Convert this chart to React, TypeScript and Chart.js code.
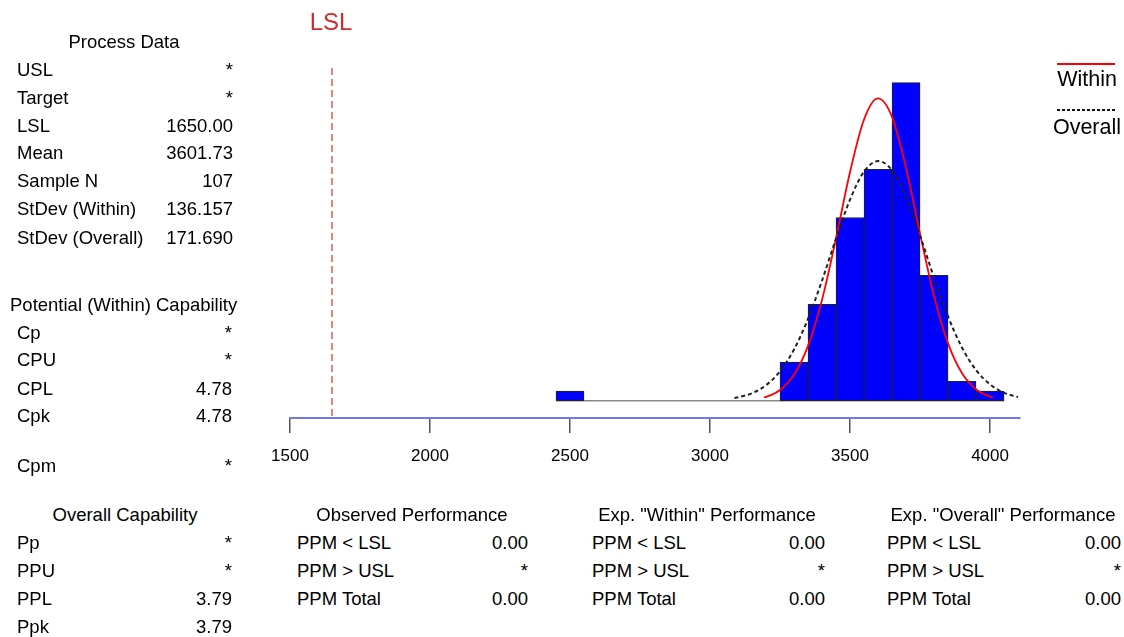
import React, { useEffect, useRef } from "react";
import { Chart, registerables } from "chart.js";

Chart.register(...registerables);

// ---------- data ----------
const binCenters = [2500, 3300, 3400, 3500, 3600, 3700, 3800, 3900, 4000];
const binCounts = [1, 4, 10, 19, 24, 33, 13, 2, 1];
const binWidth = 100;

const withinX = [3193, 3200, 3250, 3300, 3350, 3400, 3450, 3500, 3550, 3600, 3650, 3700, 3750, 3800, 3850, 3900, 3950, 4000, 4010];
const withinY = [0.35, 0.4, 1.11, 2.69, 5.68, 10.46, 16.85, 23.72, 29.17, 31.35, 29.44, 24.16, 17.33, 10.86, 5.95, 2.85, 1.19, 0.43, 0.35];

const overallX = [3087, 3100, 3150, 3200, 3250, 3300, 3350, 3400, 3450, 3500, 3550, 3600, 3650, 3700, 3750, 3800, 3850, 3900, 3950, 4000, 4050, 4100];
const overallY = [0.28, 0.35, 0.78, 1.61, 3.05, 5.31, 8.49, 12.46, 16.82, 20.86, 23.76, 24.86, 23.9, 21.1, 17.12, 12.76, 8.74, 5.5, 3.18, 1.69, 0.82, 0.37];

const xTicks = [1500, 2000, 2500, 3000, 3500, 4000];
const xMin = 1500;
const xMax = 4107;
const lslValue = 1650;

const processLabels = ["USL", "Target", "LSL", "Mean", "Sample N", "StDev (Within)", "StDev (Overall)"];
const processValues = ["*", "*", "1650.00", "3601.73", "107", "136.157", "171.690"];
const potentialLabels = ["Cp", "CPU", "CPL", "Cpk", "Cpm"];
const potentialValues = ["*", "*", "4.78", "4.78", "*"];
const overallLabels = ["Pp", "PPU", "PPL", "Ppk"];
const overallValues = ["*", "*", "3.79", "3.79"];
const perfLabels = ["PPM < LSL", "PPM > USL", "PPM Total"];
const observedValues = ["0.00", "*", "0.00"];
const expWithinValues = ["0.00", "*", "0.00"];
const expOverallValues = ["0.00", "*", "0.00"];

const FONT = '"Liberation Sans", Arial, sans-serif';

type TProps = { x: number; y: number; text: string; align?: "left" | "right" | "center"; size?: number; color?: string };
function T({ x, y, text, align = "left", size = 18.5, color = "#000" }: TProps) {
  const lh = 22;
  const style: React.CSSProperties = {
    position: "absolute",
    top: y - lh / 2,
    lineHeight: lh + "px",
    fontSize: size,
    fontFamily: FONT,
    color,
    whiteSpace: "nowrap",
  };
  if (align === "left") style.left = x;
  else if (align === "right") style.right = 1124 - x;
  else {
    style.left = x - 200;
    style.width = 400;
    style.textAlign = "center";
  }
  return <div style={style}>{text}</div>;
}

const decoPlugin = {
  id: "deco",
  afterDatasetsDraw(chart: any) {
    const ctx = chart.ctx;
    const xs = chart.scales.x;
    const area = chart.chartArea;
    const lx = xs.getPixelForValue(lslValue);
    ctx.save();
    ctx.strokeStyle = "rgba(232,70,70,0.9)";
    ctx.lineWidth = 1.5;
    ctx.setLineDash([7, 4]);
    ctx.beginPath();
    ctx.moveTo(lx, area.top + 8);
    ctx.lineTo(lx, area.bottom);
    ctx.stroke();
    // legend lines
    ctx.setLineDash([]);
    ctx.strokeStyle = "#ff0000";
    ctx.lineWidth = 2;
    ctx.beginPath();
    ctx.moveTo(1057, 64);
    ctx.lineTo(1115, 64);
    ctx.stroke();
    ctx.strokeStyle = "#111";
    ctx.setLineDash([3, 2]);
    ctx.beginPath();
    ctx.moveTo(1057, 110);
    ctx.lineTo(1115, 110);
    ctx.stroke();
    ctx.restore();
  },
};

export default function App() {
  const ref = useRef<HTMLCanvasElement | null>(null);

  useEffect(() => {
    document.body.style.margin = "0";
    if (!ref.current) return;
    const chart = new Chart(ref.current, {
      type: "bar",
      data: {
        datasets: [
          {
            type: "line",
            data: overallX.map((x, i) => ({ x, y: overallY[i] })),
            borderColor: "#222",
            borderWidth: 2,
            borderDash: [4, 3],
            pointRadius: 0,
            tension: 0.4,
            cubicInterpolationMode: "monotone",
            order: 0,
          } as any,
          {
            type: "line",
            data: withinX.map((x, i) => ({ x, y: withinY[i] })),
            borderColor: "#ff0000",
            borderWidth: 1.8,
            pointRadius: 0,
            tension: 0.4,
            cubicInterpolationMode: "monotone",
            order: 1,
          } as any,
          {
            type: "bar",
            data: binCenters.map((x, i) => ({ x, y: binCounts[i] })),
            backgroundColor: "#0000ff",
            borderColor: "#222",
            borderWidth: 1,
            borderSkipped: false,
            barPercentage: 1,
            categoryPercentage: 1,
            order: 2,
          } as any,
          {
            type: "line",
            data: [
              { x: binCenters[0] - binWidth / 2, y: 0 },
              { x: binCenters[binCenters.length - 1] + binWidth / 2, y: 0 },
            ],
            borderColor: "#888",
            borderWidth: 1.5,
            pointRadius: 0,
            order: 3,
          } as any,
        ],
      },
      options: {
        animation: false,
        responsive: false,
        devicePixelRatio: 1,
        layout: { padding: { left: 290, right: 104, top: 60, bottom: 10 } },
        plugins: { legend: { display: false }, tooltip: { enabled: false } },
        scales: {
          x: {
            type: "linear",
            min: xMin,
            max: xMax,
            offset: false,
            afterBuildTicks: (s: any) => {
              s.ticks = xTicks.map((v) => ({ value: v }));
            },
            afterFit: (s: any) => {
              s.height = 52;
            },
            grid: {
              display: true,
              drawOnChartArea: false,
              drawTicks: true,
              tickLength: 15,
              color: "#555",
              lineWidth: 1.5,
              offset: false,
            },
            border: { display: true, color: "#7575f2", width: 2 },
            ticks: {
              font: { family: FONT, size: 17 },
              color: "#000",
              padding: 13,
              maxRotation: 0,
              autoSkip: false,
              callback: (v: any) => String(v),
            },
          },
          y: {
            display: false,
            min: -1.795,
            max: 35.34,
          },
        },
      },
      plugins: [decoPlugin],
    });
    return () => chart.destroy();
  }, []);

  const rowsP = [70, 98, 126, 153, 181, 209, 238];
  const rowsPot = [333, 360, 389, 416, 466];
  const rowsO = [543, 571, 599, 627];
  const rowsPerf = [543, 571, 599];

  return (
    <div style={{ position: "relative", width: 1124, height: 637, background: "#fff", overflow: "hidden" }}>
      <canvas ref={ref} width={1124} height={480} style={{ position: "absolute", left: 0, top: 0 }} />
      <T x={331} y={22} text="LSL" align="center" size={24} color="#d42a2a" />
      <T x={1087} y={79} text="Within" align="center" size={21.5} />
      <T x={1087} y={127} text="Overall" align="center" size={21.5} />

      <T x={124} y={42} text="Process Data" align="center" />
      {processLabels.map((l, i) => (
        <T key={"pl" + i} x={17} y={rowsP[i]} text={l} />
      ))}
      {processValues.map((v, i) => (
        <T key={"pv" + i} x={233} y={rowsP[i]} text={v} align="right" />
      ))}

      <T x={10} y={305} text="Potential (Within) Capability" />
      {potentialLabels.map((l, i) => (
        <T key={"tl" + i} x={17} y={rowsPot[i]} text={l} />
      ))}
      {potentialValues.map((v, i) => (
        <T key={"tv" + i} x={232} y={rowsPot[i]} text={v} align="right" />
      ))}

      <T x={125} y={515} text="Overall Capability" align="center" />
      {overallLabels.map((l, i) => (
        <T key={"ol" + i} x={17} y={rowsO[i]} text={l} />
      ))}
      {overallValues.map((v, i) => (
        <T key={"ov" + i} x={232} y={rowsO[i]} text={v} align="right" />
      ))}

      <T x={412} y={515} text="Observed Performance" align="center" />
      {perfLabels.map((l, i) => (
        <T key={"bl" + i} x={297} y={rowsPerf[i]} text={l} />
      ))}
      {observedValues.map((v, i) => (
        <T key={"bv" + i} x={528} y={rowsPerf[i]} text={v} align="right" />
      ))}

      <T x={707} y={515} text={'Exp. "Within" Performance'} align="center" />
      {perfLabels.map((l, i) => (
        <T key={"wl" + i} x={592} y={rowsPerf[i]} text={l} />
      ))}
      {expWithinValues.map((v, i) => (
        <T key={"wv" + i} x={825} y={rowsPerf[i]} text={v} align="right" />
      ))}

      <T x={1003} y={515} text={'Exp. "Overall" Performance'} align="center" />
      {perfLabels.map((l, i) => (
        <T key={"vl" + i} x={887} y={rowsPerf[i]} text={l} />
      ))}
      {expOverallValues.map((v, i) => (
        <T key={"vv" + i} x={1121} y={rowsPerf[i]} text={v} align="right" />
      ))}
    </div>
  );
}
